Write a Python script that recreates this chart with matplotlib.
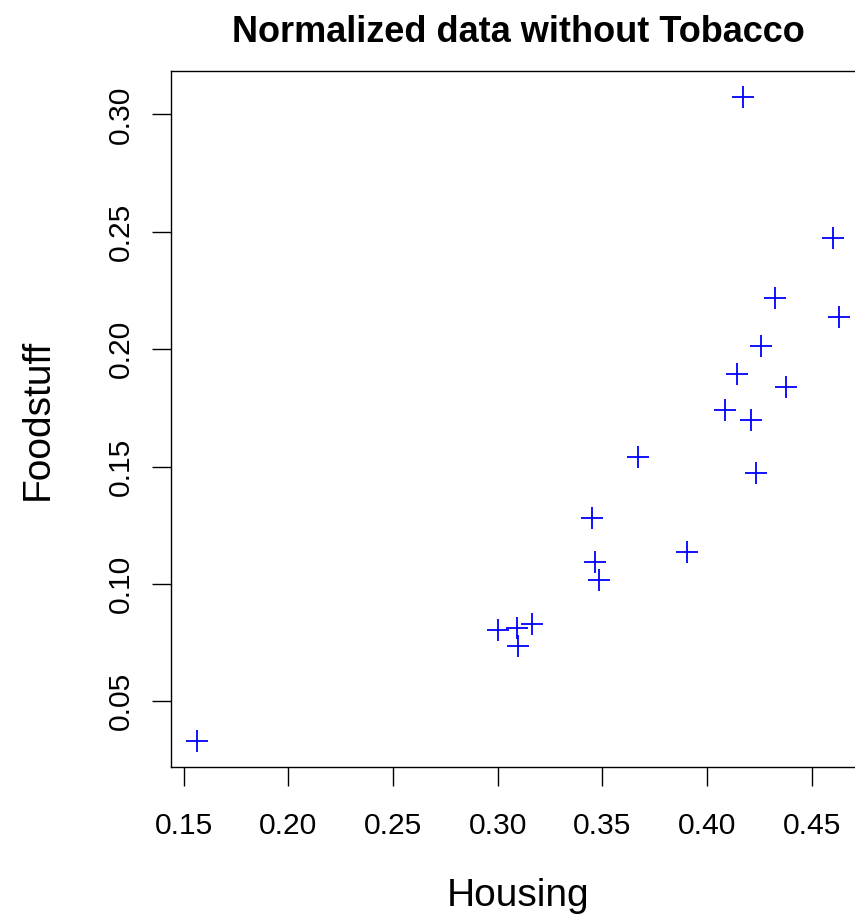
import matplotlib
matplotlib.use('Agg')
import matplotlib.pyplot as plt
import numpy as np

plt.rcParams['font.family'] = ['Liberation Sans', 'DejaVu Sans']

# Housing vs Foodstuff (normalized)
housing = np.array([0.4170, 0.4600, 0.4324, 0.4632, 0.4260, 0.4145, 0.4377,
                    0.4085, 0.4209, 0.3671, 0.4232, 0.3452, 0.3903, 0.3465,
                    0.3484, 0.3003, 0.3092, 0.3163, 0.3097, 0.1562])
foodstuff = np.array([0.3075, 0.2474, 0.2219, 0.2136, 0.2014, 0.1893, 0.1840,
                      0.1739, 0.1697, 0.1539, 0.1474, 0.1279, 0.1134, 0.1093,
                      0.1018, 0.0804, 0.0814, 0.0831, 0.0737, 0.0330])
xticks = [0.15, 0.20, 0.25, 0.30, 0.35, 0.40, 0.45]
yticks = [0.05, 0.10, 0.15, 0.20, 0.25, 0.30]

W, H = 855, 918
fig = plt.figure(figsize=(W / 100, H / 100), dpi=100)
# plot region runs past the right edge, as in the original
ax = fig.add_axes([171 / W, (H - 767) / H, (865 - 171) / W, (767 - 71) / H])

ax.plot(housing, foodstuff, linestyle='none', marker='+', color='#0000ff',
        markersize=15.6, markeredgewidth=1.3)


def rlim(v):
    # R style 4% padding
    r = v.max() - v.min()
    return v.min() - 0.04 * r, v.max() + 0.04 * r


ax.set_xlim(*rlim(housing))
ax.set_ylim(*rlim(foodstuff))
ax.set_xticks(xticks)
ax.set_yticks(yticks)
ax.set_xticklabels(['%.2f' % t for t in xticks])
ax.set_yticklabels(['%.2f' % t for t in yticks])
ax.tick_params(axis='both', direction='out', length=13.7, width=1.0,
               labelsize=21.6, color='black')
ax.tick_params(axis='x', pad=19)
ax.tick_params(axis='y', pad=12)
plt.setp(ax.get_yticklabels(), rotation=90, va='center')
for s in ax.spines.values():
    s.set_linewidth(1.0)
ax.spines['right'].set_visible(False)  # cut off in the original

fig.text(518 / W, 1 - 42 / H, 'Normalized data without Tobacco',
         fontsize=26, fontweight='bold', ha='center', va='baseline')
fig.text(518 / W, 1 - 906 / H, 'Housing', fontsize=28,
         ha='center', va='baseline')
fig.text(48 / W, 1 - 419 / H, 'Foodstuff', fontsize=28, rotation=90,
         rotation_mode='anchor', ha='center', va='baseline')

fig.savefig('out.png', dpi=100)
